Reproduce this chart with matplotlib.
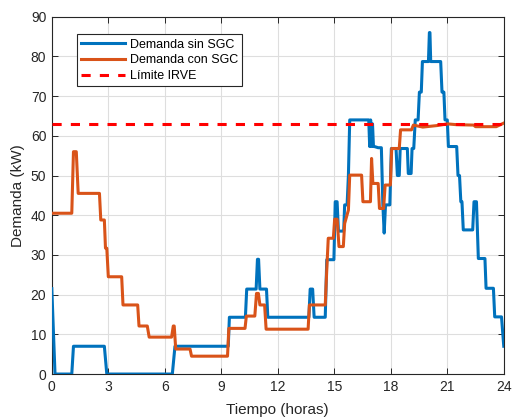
import matplotlib
matplotlib.use("Agg")
import matplotlib.pyplot as plt

plt.rcParams['font.family'] = ['Liberation Sans', 'DejaVu Sans']

# Demanda sin SGC (kW) - vertices (hora, kW)
t_sin = [0, 0.17, 1.06, 1.15, 2.79, 2.92, 6.4, 6.54, 9.37, 9.43, 10.28, 10.35,
         10.85, 10.92, 10.98, 11.05, 11.4, 11.47, 13.65, 13.72, 13.85, 13.93,
         14.52, 14.6, 14.98, 15.05, 15.15, 15.22, 15.5, 15.55, 15.68, 15.75,
         15.82, 16.83, 16.88, 16.93, 16.98, 17.03, 17.08, 17.13, 17.33, 17.5,
         17.58, 17.65, 17.72, 17.95, 18.03, 18.28, 18.35, 18.45, 18.5, 18.88,
         18.93, 19.08, 19.13, 19.22, 19.3, 19.45, 19.52, 19.62, 19.68, 20.0,
         20.05, 20.08, 20.12, 20.65, 20.72, 20.82, 20.88, 21.0, 21.06, 21.5,
         21.57, 21.65, 21.72, 21.78, 21.85, 22.35, 22.42, 22.55, 22.65, 23.0,
         23.06, 23.45, 23.52, 23.88, 24.0]
p_sin = [21.5, 0, 0, 7, 7, 0, 0, 7, 7, 14.3, 14.3, 21.4,
         21.4, 28.9, 28.9, 21.4, 21.4, 14.3, 14.3, 21.4, 21.4, 14.3,
         14.3, 28.8, 28.8, 43.4, 43.4, 36, 36, 42.6, 42.6, 50,
         64, 64, 57.3, 64, 57.3, 63, 57.3, 57.3, 57, 57,
         42.6, 35.5, 42.6, 42.6, 56.8, 56.8, 50, 50, 56.8, 56.8,
         50.5, 50.5, 56.8, 56.8, 64, 64, 71, 71, 78.7, 78.7,
         86, 86, 78.7, 78.7, 71, 71, 64, 64, 57.3, 57.3,
         50, 50, 43.4, 43.4, 36.3, 36.3, 43.4, 43.4, 29.1, 29.1,
         21.6, 21.6, 14.4, 14.4, 7.0]

# Demanda con SGC (kW)
t_con = [0, 1.06, 1.15, 1.3, 1.4, 2.53, 2.6, 2.79, 2.85, 2.92, 3.0, 3.71, 3.78,
         4.56, 4.63, 5.07, 5.17, 6.36, 6.45, 6.5, 6.58, 7.34, 7.42, 9.33, 9.4,
         10.26, 10.33, 10.78, 10.87, 10.97, 11.05, 11.3, 11.38, 13.61, 13.68,
         14.52, 14.6, 14.68, 14.95, 15.02, 15.15, 15.25, 15.48, 15.55, 15.75,
         15.82, 16.45, 16.52, 16.92, 16.98, 17.05, 17.33, 17.4, 17.62, 17.7,
         17.98, 18.05, 18.45, 18.52, 19.1, 19.2, 19.7, 20.5, 21.0, 21.5, 22.4,
         22.5, 23.6, 24.0]
p_con = [40.5, 40.5, 56, 56, 45.5, 45.5, 38.8, 38.8, 31.7, 31.7, 24.5, 24.5, 17.4,
         17.4, 12.1, 12.1, 9.3, 9.3, 12.1, 12.1, 6.3, 6.3, 4.5, 4.5, 11.5,
         11.5, 14.6, 14.6, 20.3, 20.3, 17.4, 17.4, 11.3, 11.3, 17.4,
         17.4, 26.2, 34.2, 34.2, 39, 39, 32.1, 32.1, 37.9, 41.3,
         50.1, 50.1, 43.4, 43.4, 54.3, 48, 48, 41.7, 41.7, 47.6,
         47.6, 56.8, 56.8, 61.5, 61.5, 62.7, 62.2, 62.6, 63, 62.8, 62.7,
         62.3, 62.3, 63.2]

limite_irve = 63
x_ticks = [0, 3, 6, 9, 12, 15, 18, 21, 24]
y_ticks = [0, 10, 20, 30, 40, 50, 60, 70, 80, 90]

fig = plt.figure(figsize=(5.13, 4.17), dpi=100)
ax = fig.add_axes([0.101, 0.103, 0.881, 0.857])

c_dark = '#262626'
ax.plot(t_sin, p_sin, color='#0072BD', lw=2.2, label='Demanda sin SGC', zorder=3)
ax.plot(t_con, p_con, color='#D95319', lw=2.2, label='Demanda con SGC', zorder=3)
ax.axhline(limite_irve, color='#FF0000', lw=2.2, ls=(0, (3, 3)), label='Límite IRVE', zorder=4)

ax.set_xlim(0, 24)
ax.set_ylim(0, 90)
ax.set_xticks(x_ticks)
ax.set_yticks(y_ticks)
ax.grid(True, color='#dedede', lw=0.8)
ax.set_axisbelow(True)
ax.tick_params(direction='in', top=True, right=True, length=4, width=0.7,
               colors=c_dark, labelsize=10, pad=4)
for s in ax.spines.values():
    s.set_color(c_dark)
    s.set_linewidth(0.8)

ax.set_xlabel('Tiempo (horas)', fontsize=11, color=c_dark, labelpad=7)
ax.set_ylabel('Demanda (kW)', fontsize=11, color=c_dark, labelpad=4)

leg = ax.legend(loc='upper left', bbox_to_anchor=(0.055, 0.951), borderaxespad=0,
                fontsize=9, fancybox=False, framealpha=1, edgecolor=c_dark,
                handlelength=3.5, handletextpad=0.4, labelspacing=0.3,
                borderpad=0.35)
leg.get_frame().set_linewidth(0.8)

fig.savefig('out.png', dpi=100)
